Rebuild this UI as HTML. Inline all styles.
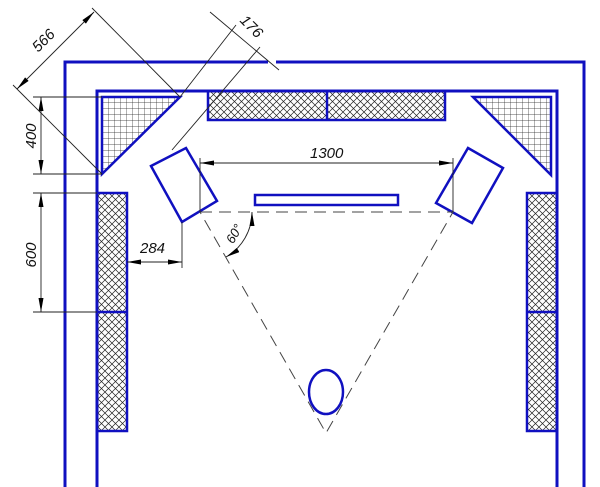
<!DOCTYPE html>
<html><head><meta charset="utf-8"><style>
html,body{margin:0;padding:0;background:#fff;}
svg{display:block;}
text{font-family:"Liberation Sans",sans-serif;font-style:italic;font-size:15px;fill:#111;}
</style></head><body>
<svg width="600" height="487" viewBox="0 0 600 487" xmlns="http://www.w3.org/2000/svg">
<defs>
<pattern id="cross" width="7" height="7" patternUnits="userSpaceOnUse">
<path d="M0 0L7 7M7 0L0 7" stroke="#222" stroke-width="0.7"/>
</pattern>
<pattern id="grid" width="6" height="6" patternUnits="userSpaceOnUse">
<path d="M0 0H6M0 0V6" stroke="#222" stroke-width="0.7" fill="none"/>
</pattern>
<marker id="ar" viewBox="0 0 10 10" refX="10" refY="5" markerWidth="14" markerHeight="5" markerUnits="userSpaceOnUse" preserveAspectRatio="none" orient="auto-start-reverse">
<path d="M0 0L10 5L0 10z" fill="#000"/>
</marker>
</defs>
<g fill="none" stroke="#1010c0" stroke-width="3">
<path d="M65 487V62H268M276 62H584V487"/>
<path d="M97 487V91H557V487"/>
</g>
<g stroke="#1010c0" stroke-width="2.5">
<rect x="208" y="91" width="237" height="29" fill="url(#cross)"/>
<line x1="327" y1="91" x2="327" y2="120"/>
<rect x="97" y="193" width="30" height="238" fill="url(#cross)"/>
<line x1="97" y1="312" x2="127" y2="312"/>
<rect x="527" y="193" width="30" height="238" fill="url(#cross)"/>
<line x1="527" y1="312" x2="557" y2="312"/>
<polygon points="102,97 180,97 102,174" fill="url(#grid)"/>
<polygon points="473,97 551,97 551,175" fill="url(#grid)"/>
<polygon points="151,166 186,148 217,201 182,222" fill="#fff"/>
<polygon points="468,148 503,168 472,223 436,203" fill="#fff"/>
<rect x="255" y="195" width="143" height="10" fill="#fff"/>
<ellipse cx="326" cy="392" rx="17" ry="22" fill="none"/>
</g>
<g stroke="#444" stroke-width="1" fill="none" stroke-dasharray="12,7">
<path d="M200 212H453L326 433Z"/>
</g>
<g stroke="#222" stroke-width="0.9" fill="none">
<line x1="200" y1="158" x2="200" y2="212"/>
<line x1="453" y1="158" x2="453" y2="212"/>
<line x1="200" y1="163" x2="453" y2="163" marker-start="url(#ar)" marker-end="url(#ar)"/>
<line x1="33" y1="97" x2="102" y2="97"/>
<line x1="33" y1="174" x2="102" y2="174"/>
<line x1="41" y1="97" x2="41" y2="174" marker-start="url(#ar)" marker-end="url(#ar)"/>
<line x1="33" y1="193" x2="97" y2="193"/>
<line x1="33" y1="312" x2="97" y2="312"/>
<line x1="41" y1="193" x2="41" y2="312" marker-start="url(#ar)" marker-end="url(#ar)"/>
<line x1="182" y1="222" x2="182" y2="268"/>
<line x1="127" y1="262" x2="182" y2="262" marker-start="url(#ar)" marker-end="url(#ar)"/>
<line x1="102" y1="174" x2="13" y2="85"/>
<line x1="180" y1="97" x2="92" y2="8"/>
<line x1="17" y1="89" x2="94" y2="12" marker-start="url(#ar)" marker-end="url(#ar)"/>
<line x1="180" y1="97" x2="236" y2="25"/>
<line x1="172" y1="150" x2="260" y2="47"/>
<line x1="210" y1="12" x2="279" y2="70"/>
<path d="M252 212A52 52 0 0 1 226 257" marker-start="url(#ar)" marker-end="url(#ar)"/>
</g>
<text x="310" y="158">1300</text>
<text transform="translate(36,136) rotate(-90)" text-anchor="middle">400</text>
<text transform="translate(36,255) rotate(-90)" text-anchor="middle">600</text>
<text x="140" y="253">284</text>
<text transform="translate(47,44) rotate(-45)" text-anchor="middle">566</text>
<text transform="translate(248,30) rotate(45)" text-anchor="middle">176</text>
<text transform="translate(238,236) rotate(-60)" text-anchor="middle" style="font-size:13px">60°</text>
</svg>
</body></html>
